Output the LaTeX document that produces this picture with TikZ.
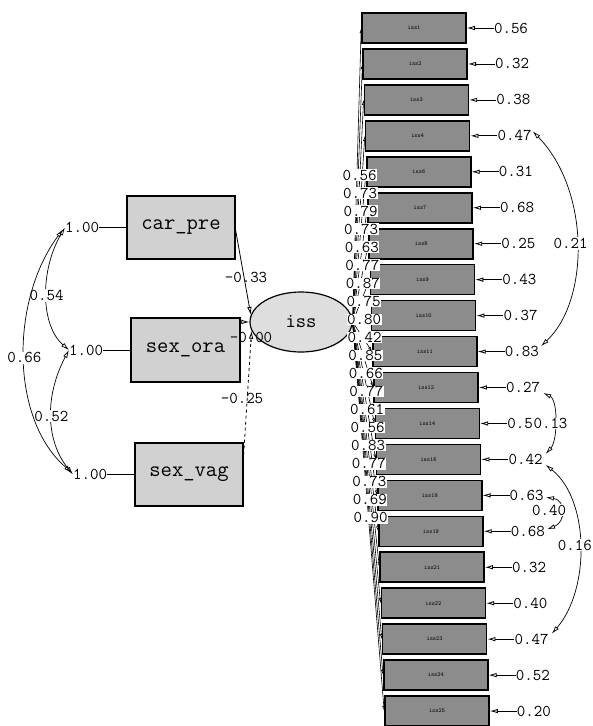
\documentclass[tikz,border=0pt]{standalone}
\usetikzlibrary{arrows.meta,calc,shapes.geometric}
\begin{document}
\begin{tikzpicture}[x=1pt,y=-1pt,
  num/.style={font=\ttfamily\fontsize{16.5}{16.5}\selectfont, inner sep=0pt},
  obsL/.style={draw, line width=1.3pt, fill=black!18, minimum width=108pt, minimum height=63pt, inner sep=0pt, font=\ttfamily\fontsize{22}{22}\selectfont},
  obsR/.style={draw, line width=1.6pt, fill=black!45, minimum width=104pt, minimum height=30pt, inner sep=0pt, font=\ttfamily\fontsize{6}{6}\selectfont},
  lat/.style={ellipse, draw, line width=1.2pt, fill=black!13, minimum width=102pt, minimum height=60pt, inner sep=0pt, font=\ttfamily\fontsize{20}{20}\selectfont},
  arr/.style={line width=0.8pt, -{Latex[open,length=8pt,width=4.5pt]}},
  ldarr/.style={line width=0.6pt, -{Latex[open,length=5pt,width=3pt]}},
  cov/.style={line width=0.7pt, {Latex[open,length=8pt,width=4.5pt]}-{Latex[open,length=8pt,width=4.5pt]}},
  plain/.style={line width=0.8pt},
]
\useasboundingbox (0,0) rectangle (593,726);

% latent variable
\node[lat] (iss) at (301,322) {iss};

% left observed variables
\node[obsL] (carpre) at (181,227.5) {car\_pre};
\node[obsL, minimum width=109pt, minimum height=64pt] (sexora) at (185.5,350) {sex\_ora};
\node[obsL] (sexvag) at (189,474.5) {sex\_vag};

\node[num, anchor=east] (c1) at ($(carpre.west)+(-27,0)$) {1.00};
\node[num, anchor=east] (c2) at ($(sexora.west)+(-27,0)$) {1.00};
\node[num, anchor=east] (c3) at ($(sexvag.west)+(-27,0)$) {1.00};
\draw[plain] (c1.east) -- (carpre.west);
\draw[plain] (c2.east) -- (sexora.west);
\draw[plain] (c3.east) -- (sexvag.west);

% left covariances
\draw[cov] (c1.west) .. controls (40,270) and (40,325) .. (c2.west)
  node[pos=0.5, num, fill=white, inner sep=1pt] (k1) {0.54};
\draw[cov] (c2.west) .. controls (45,395) and (45,440) .. (c3.west)
  node[pos=0.5, num, fill=white, inner sep=1pt] (k2) {0.52};
\draw[cov] ($(c1.west)+(-2,2)$) .. controls (10,300) and (10,420) .. ($(c3.west)+(-1,-2)$)
  node[pos=0.5, num, fill=white, inner sep=1pt] (k3) {0.66};

% paths to latent
\draw[arr] (carpre.-3) -- (iss.172);
\draw[arr] (sexora.27) -- (iss.west);
\draw[arr, dashed] (sexvag.20) -- (iss.190);
\node[num] (g1) at (246,277) {-0.33};
\node[num] (g2) at (251,337) {-0.00};
\node[num] (g3) at (242,398) {-0.25};

% right observed variables
\foreach \i/\lab/\er in {
  1/iss1/0.56, 2/iss2/0.32, 3/iss3/0.38, 4/iss4/0.47,
  5/iss6/0.31, 6/iss7/0.68, 7/iss8/0.25, 8/iss9/0.43,
  9/iss10/0.37, 10/iss11/0.83, 11/iss12/0.27, 12/iss14/0.5,
  13/iss16/0.42, 14/iss18/0.63, 15/iss19/0.68, 16/iss21/0.32,
  17/iss22/0.40, 18/iss23/0.47, 19/iss24/0.52, 20/iss25/0.20}{
  \pgfmathsetmacro\bx{414+1.21*(\i-1)}
  \pgfmathsetmacro\by{28+35.95*(\i-1)}
  \node[obsR] (b\i) at (\bx,\by) {\lab};
  \node[num, anchor=west] (e\i) at ($(b\i.east)+(27,0)$) {\er};
  \draw[arr] (e\i.west) -- (b\i.east);
  \draw[ldarr] (iss.east) -- (b\i.west);
}
% loadings
\foreach \i/\ld in {
  1/0.56, 2/0.73, 3/0.79, 4/0.73, 5/0.63, 6/0.77, 7/0.87, 8/0.75, 9/0.80, 10/0.42,
  11/0.85, 12/0.66, 13/0.77, 14/0.61, 15/0.56, 16/0.83, 17/0.77, 18/0.73, 19/0.69, 20/0.90}{
  \pgfmathsetmacro\lx{359.5+0.58*(\i-1)}
  \pgfmathsetmacro\ly{175+18.05*(\i-1)}
  \node[num, fill=white, inner sep=0.5pt] (l\i) at (\lx,\ly) {\ld};
}

% right covariances
\draw[cov] ($(e4.north east)+(1,1)$) .. controls (590,190) and (590,300) .. ($(e10.north east)+(2,0)$)
  node[pos=0.5, num, fill=white, inner sep=1pt, xshift=-6pt] (k4) {0.21};
\draw[cov] ($(e11.south east)+(3,0)$) .. controls (558,400) and (558,440) .. ($(e13.north east)+(3,0)$);
\node[num, anchor=west, fill=white, inner sep=0.3pt] (k5) at (e12.east) {0.13};
\draw[cov] ($(e14.east)+(2,2)$) .. controls (566,500) and (566,522) .. ($(e15.east)+(2,-2)$);
\node[num, fill=white, inner sep=1pt] (k6) at (549,510) {0.40};
\draw[cov] ($(e13.south east)+(3,0)$) .. controls (590,500) and (590,590) .. ($(e18.north east)+(3,0)$);
\node[num, fill=white, inner sep=1pt, anchor=east] (k7) at (593,545) {0.16};
\end{tikzpicture}
\end{document}
